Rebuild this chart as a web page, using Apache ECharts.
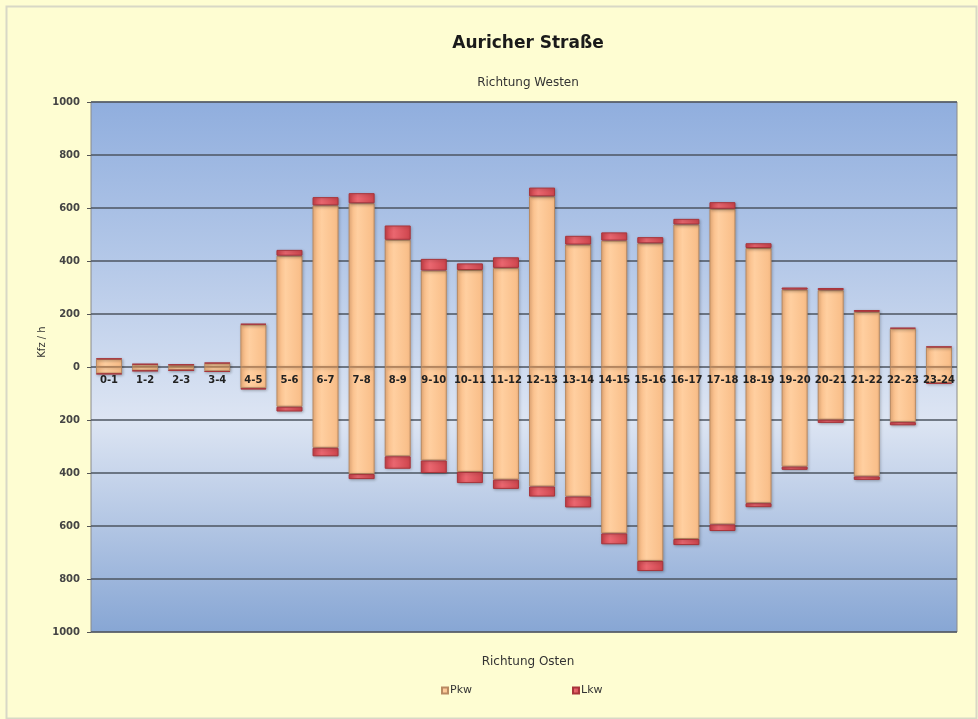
<!DOCTYPE html>
<html>
<head>
<meta charset="utf-8">
<script src="https://cdn.jsdelivr.net/npm/echarts@6/dist/echarts.min.js"></script>
<style>
html,body{margin:0;padding:0;background:#FEFDD2;}
#c{width:978px;height:719px;}
</style>
</head>
<body>
<div id="c"></div>
<script>
const categories = ["0-1","1-2","2-3","3-4","4-5","5-6","6-7","7-8","8-9","9-10","10-11","11-12","12-13","13-14","14-15","15-16","16-17","17-18","18-19","19-20","20-21","21-22","22-23","23-24"];
// Richtung Westen (positive)
const pkwWest = [30, 10, 8, 14, 160, 420, 610, 618, 480, 364, 366, 374, 644, 462, 477, 467, 538, 597, 449, 292, 290, 208, 145, 75];
const lkwWest = [2, 1, 1, 2, 3, 22, 31, 38, 54, 44, 25, 40, 33, 33, 31, 23, 21, 25, 18, 8, 8, 7, 3, 2];
// Richtung Osten (negative)
const pkwOst = [-25, -14, -12, -16, -80, -150, -305, -404, -337, -353, -396, -425, -451, -489, -628, -732, -649, -594, -514, -376, -199, -413, -208, -60];
const lkwOst = [-2, -1, -1, -2, -5, -18, -32, -19, -47, -47, -42, -35, -38, -41, -41, -38, -23, -25, -15, -12, -12, -13, -12, -3];
const yTicks = [-1000, -800, -600, -400, -200, 0, 200, 400, 600, 800, 1000];

const chart = echarts.init(document.getElementById('c'), null, {renderer: 'canvas'});

const pkwStyle = {
  color: new echarts.graphic.LinearGradient(0, 0, 1, 0, [
    {offset: 0, color: '#F6B67F'},
    {offset: 0.35, color: '#FFCFA0'},
    {offset: 1, color: '#F8BC86'}
  ]),
  borderColor: '#B98A62',
  borderWidth: 1,
  shadowColor: 'rgba(0,0,0,0.25)',
  shadowBlur: 3,
  shadowOffsetX: 1,
  shadowOffsetY: 1
};
const lkwStyle = {
  color: new echarts.graphic.LinearGradient(0, 0, 1, 0, [
    {offset: 0, color: '#CC4048'},
    {offset: 0.35, color: '#EA6770'},
    {offset: 1, color: '#CE444C'}
  ]),
  borderColor: '#A8343A',
  borderWidth: 1,
  shadowColor: 'rgba(0,0,0,0.25)',
  shadowBlur: 3,
  shadowOffsetX: 1,
  shadowOffsetY: 1
};

const barW = 26;
const gridTop = 102, gridBottom = 87;
const plotH = 719 - gridTop - gridBottom;

chart.setOption({
  backgroundColor: '#FEFDD2',
  animation: false,
  graphic: [{
    type: 'rect', left: 4, top: 4, z: -1, silent: true,
    shape: {width: 970, height: 712},
    style: {fill: null, stroke: '#D8D8C6', lineWidth: 2}
  }],
  title: [
    {text: 'Auricher Straße', left: 523, top: 30, textAlign: 'center',
     textStyle: {fontFamily: 'DejaVu Sans', fontSize: 17, fontWeight: 'bold', color: '#1a1a1a'}},
    {text: 'Richtung Westen', left: 523, top: 72, textAlign: 'center',
     textStyle: {fontFamily: 'DejaVu Sans', fontSize: 12, fontWeight: 'normal', color: '#333'}},
    {text: 'Richtung Osten', left: 523, top: 651, textAlign: 'center',
     textStyle: {fontFamily: 'DejaVu Sans', fontSize: 12, fontWeight: 'normal', color: '#333'}}
  ],
  legend: {
    data: ['Pkw', 'Lkw'],
    left: 436,
    top: 680,
    itemWidth: 6,
    itemHeight: 6,
    itemGap: 100,
    icon: 'rect',
    textStyle: {fontFamily: 'DejaVu Sans', fontSize: 11, color: '#333', padding: [0, 0, 0, -3]}
  },
  grid: {
    left: 91, right: 21, top: gridTop, bottom: gridBottom,
    show: true,
    borderColor: '#8a8a8a',
    borderWidth: 1,
    backgroundColor: new echarts.graphic.LinearGradient(0, 0, 0, 1, [
      {offset: 0, color: '#90AEDE'},
      {offset: 0.3, color: '#B4C8E8'},
      {offset: 0.6, color: '#DDE5F3'},
      {offset: 1, color: '#87A6D4'}
    ])
  },
  xAxis: {
    type: 'category',
    data: categories,
    offset: -plotH / 2,
    axisLine: {show: false},
    axisTick: {show: false},
    axisLabel: {
      interval: 0, margin: 8,
      fontFamily: 'DejaVu Sans', fontSize: 10, fontWeight: 'bold', color: '#222'
    },
    z: 10
  },
  yAxis: {
    type: 'value',
    min: -1000, max: 1000, interval: 200,
    name: 'Kfz / h',
    nameLocation: 'middle',
    nameGap: 44,
    nameRotate: 90,
    nameMoveOverlap: false,
    nameTextStyle: {fontFamily: 'DejaVu Sans', fontSize: 10, color: '#333', padding: [0, 0, 0, 50]},
    axisLine: {show: false},
    axisTick: {show: true, length: 4, lineStyle: {color: '#555'}},
    axisLabel: {
      formatter: v => (yTicks.indexOf(v) >= 0 ? String(Math.abs(v)) : ''),
      fontFamily: 'DejaVu Sans', fontSize: 10, fontWeight: 'bold', color: '#444', margin: 11
    },
    splitLine: {lineStyle: {color: '#4d5560', width: 1.5}}
  },
  series: [
    {name: 'Pkw', type: 'bar', stack: 'v', data: pkwWest, barWidth: barW, itemStyle: pkwStyle},
    {name: 'Lkw', type: 'bar', stack: 'v', data: lkwWest, barWidth: barW, itemStyle: lkwStyle},
    {name: 'Pkw', type: 'bar', stack: 'v', data: pkwOst, barWidth: barW, itemStyle: pkwStyle},
    {name: 'Lkw', type: 'bar', stack: 'v', data: lkwOst, barWidth: barW, itemStyle: lkwStyle}
  ]
});
</script>
</body>
</html>
